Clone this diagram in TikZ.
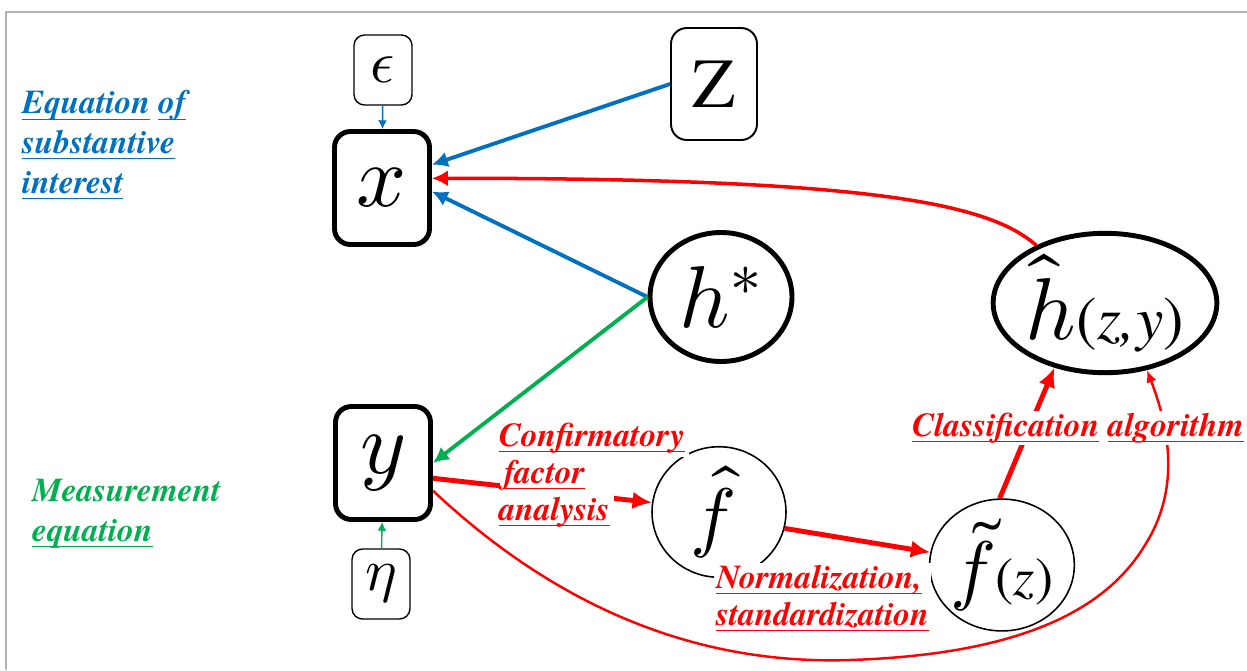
\documentclass[tikz,border=0pt]{standalone}
\usepackage{fontspec}
\usepackage{unicode-math}
\setmainfont{texgyretermes}[Extension=.otf, UprightFont=*-regular,
  BoldFont=*-bold, ItalicFont=*-italic, BoldItalicFont=*-bolditalic]
\setmathfont{Latin Modern Math}
\usetikzlibrary{arrows.meta,shapes.geometric}
\definecolor{eqblue}{RGB}{0,112,192}
\definecolor{eqgreen}{RGB}{0,176,80}
\definecolor{eqred}{RGB}{255,0,0}
\newcommand{\sz}[1]{\fontsize{#1}{#1}\selectfont}
\newcommand{\ulw}[1]{{\setbox0\hbox{#1}\rlap{\raisebox{-3.2pt}{\rule{\wd0}{0.5pt}}}\box0}}
\newcommand{\wbg}[1]{\smash{\fboxsep=2.5pt\colorbox{white}{#1}}}

\begin{document}
\begin{tikzpicture}[
    x=0.02cm, y=-0.02cm,
    every node/.style={inner sep=0pt},
    errbox/.style={
        rectangle, rounded corners=6pt, draw, line width=0.8pt,
        minimum width=1.16cm, minimum height=1.40cm, font=\sz{34}
    },
    varbox/.style={
        rectangle, rounded corners=9pt, draw, line width=2.8pt,
        minimum width=1.90cm, minimum height=2.26cm, font=\sz{50}
    },
    latent/.style={ellipse, draw, line width=2.8pt},
    factor/.style={ellipse, draw, line width=0.9pt},
    eqlabel/.style={
        font=\fontsize{19}{22.5}\selectfont\bfseries\itshape,
        align=left, anchor=base west, inner sep=1pt
    },
    steplabel/.style={
        font=\fontsize{19}{21}\selectfont\bfseries\itshape, text=eqred,
        align=left, anchor=base west, fill=white, inner sep=1pt
    },
    blue/.style={-{Latex[length=9pt,width=9pt]}, line width=2.2pt, draw=eqblue},
    green/.style={-{Latex[length=9pt,width=9pt]}, line width=2.2pt, draw=eqgreen},
    redthick/.style={-{Latex[length=11pt,width=10pt]}, line width=2.8pt, draw=eqred},
    redthin/.style={-{Latex[length=7pt,width=6pt]}, line width=1.4pt, draw=eqred}
]
\useasboundingbox (0,0) rectangle (1247,670);

% frame
\draw[gray!60, line width=1.2pt] (6,670) -- (6,12) -- (1247,12);

% Nodes
\node[errbox] (eps) at (383, 70)  {$\epsilon$};
\node[varbox] (x)   at (382, 188) {$x$};
\node[errbox, line width=1.1pt, rounded corners=9pt,
      minimum width=1.72cm, minimum height=2.24cm,
      font=\sz{40}] (z) at (714, 84) {Z};
\node[latent, minimum width=2.84cm, minimum height=2.58cm,
      font=\sz{50}] (hs) at (721, 297) {$h^{*}$};
\node[latent, minimum width=4.36cm, minimum height=2.62cm,
      font=\sz{50}] (hh) at (1105, 303)
  {$\hat{h}$\sz{35}(\textit{z,y})};
\node[varbox] (y)   at (383, 463) {$y$};
\node[errbox] (eta) at (381, 584) {$\eta$};
\node[factor, minimum width=2.68cm, minimum height=2.56cm,
      font=\sz{44}] (fh) at (719, 512) {$\hat{f}$\,};
\node[factor, minimum width=2.72cm, minimum height=2.48cm,
      font=\sz{44}] (ft) at (1002, 565) {$\tilde{f}$\sz{31}(\textit{z})};

% Side labels
\node[eqlabel, text=eqblue] (subst) at (20, 193)
  {\ulw{Equation} \ulw{of}\\ \ulw{substantive}\\ \ulw{interest}};
\node[eqlabel, text=eqgreen] (meas) at (30, 541)
  {Measurement\\ \ulw{equation}};

% Substantive equation
\draw[-{Latex[length=5pt,width=5pt]}, line width=0.8pt, draw=eqblue] (eps) -- (x);
\draw[blue] (z.west) -- (x.25);
\draw[blue] (hs.west) -- (x.-4);
\draw[-{Latex[length=9pt,width=9pt]}, line width=2pt, draw=eqred]
  (hh.140) .. controls (990, 205) and (880, 178) .. (x.11);

% Measurement equation
\draw[green] (hs.west) -- (y.east);
\draw[-{Latex[length=5pt,width=5pt]}, line width=0.8pt, draw=eqgreen] (eta) -- (y);

% Estimation steps
\draw[redthick] (y.-17) -- (fh.172);
\node[steplabel, fill=none, inner sep=0pt] (cfa) at (494, 520)
  {\wbg{\ulw{Confirmatory}}\\ \hspace{3pt}\wbg{\ulw{factor}}\\ \wbg{\ulw{analysis}}};
\draw[redthick] (fh.-14) -- (ft.170);
\node[steplabel] (norm) at (714, 625)
  {\ulw{Normalization,}\\ \ulw{standardization}};
\draw[redthick] (ft.92) -- (hh.-128);
\draw[redthin] (y.-29) .. controls (560, 610) and (700, 665) .. (850, 660)
  .. controls (1000, 655) and (1100, 620) .. (1145, 545)
  .. controls (1180, 490) and (1170, 430) .. (hh.-58);
\node[steplabel] (class) at (910, 436)
  {\ulw{Classification} \ulw{algorithm}};

\end{tikzpicture}
\end{document}
